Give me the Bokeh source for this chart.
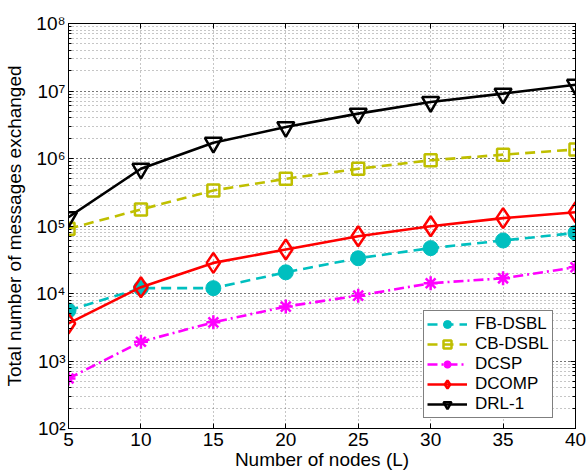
from bokeh.plotting import figure
from bokeh.models import (Range1d, FixedTicker, LogTicker, LogAxis, LinearAxis, Legend,
                          LegendItem, CustomJSTickFormatter)
from bokeh.embed import file_html
from bokeh.resources import INLINE

# ---- data ----
nodes = [5, 10, 15, 20, 25, 30, 35, 40]
fb_dsbl = [5.6e3, 1.2e4, 1.2e4, 2.06e4, 3.33e4, 4.7e4, 6.1e4, 7.9e4]
cb_dsbl = [9.1e4, 1.76e5, 3.36e5, 5.0e5, 7.05e5, 9.4e5, 1.14e6, 1.36e6]
dcsp = [550, 1.93e3, 3.74e3, 6.4e3, 9.3e3, 1.42e4, 1.68e4, 2.45e4]
dcomp = [3.6e3, 1.24e4, 2.84e4, 4.48e4, 7.05e4, 9.9e4, 1.31e5, 1.6e5]
drl1 = [1.35e5, 7.05e5, 1.71e6, 2.92e6, 4.62e6, 6.87e6, 9.15e6, 1.24e7]

series_names = ["FB-DSBL", "CB-DSBL", "DCSP", "DCOMP", "DRL-1"]
x_ticks = [5, 10, 15, 20, 25, 30, 35, 40]
y_min, y_max = 1e2, 1e8
x_label = "Number of nodes (L)"
y_label = "Total number of messages exchanged"

FONT = "Liberation Sans"

p = figure(width=587, height=475, y_axis_type="log",
           x_range=Range1d(5, 40), y_range=Range1d(y_min, y_max),
           output_backend="svg", toolbar_location=None,
           min_border_left=68, min_border_right=12, min_border_top=23, min_border_bottom=47)

p.background_fill_color = "white"
p.border_fill_color = "white"
p.outline_line_color = "black"
p.outline_line_width = 1

# axes
x_ticker = FixedTicker(ticks=x_ticks)
y_ticker = LogTicker(num_minor_ticks=10)
sup_js = """
const sup = {"0":"\u2070","1":"\u00b9","2":"\u00b2","3":"\u00b3","4":"\u2074","5":"\u2075",
             "6":"\u2076","7":"\u2077","8":"\u2078","9":"\u2079","-":"\u207b"};
const e = Math.round(Math.log10(tick));
return "10" + String(e).split("").map(c => sup[c]).join("");
"""
y_fmt = CustomJSTickFormatter(code=sup_js)

xa = p.xaxis[0]
xa.ticker = x_ticker
ya = p.yaxis[0]
ya.ticker = y_ticker
ya.formatter = y_fmt

for ax in (xa, ya):
    ax.major_label_text_font = FONT
    ax.major_label_text_font_size = "19px"
    ax.major_label_text_color = "black"
    ax.axis_label_text_font = FONT
    ax.axis_label_text_font_size = "19px"
    ax.axis_label_text_font_style = "normal"
    ax.axis_label_text_color = "black"
    ax.axis_line_color = "black"
    ax.axis_line_width = 1
    ax.major_tick_in = 5
    ax.major_tick_out = 0
    ax.minor_tick_in = 3
    ax.minor_tick_out = 0
    ax.major_tick_line_color = "black"
    ax.minor_tick_line_color = "black"
xa.minor_tick_line_color = None
xa.axis_label = x_label
ya.axis_label = y_label
xa.major_label_standoff = 4
xa.axis_label_standoff = 0
ya.major_label_standoff = 3
ya.axis_label_standoff = 8

# box axes (top/right) with inward ticks
right = LogAxis(ticker=y_ticker, major_label_text_font_size="0px", major_label_text_color=None,
                major_tick_in=5, major_tick_out=0, minor_tick_in=3, minor_tick_out=0,
                major_label_standoff=0, axis_line_color="black")
top = LinearAxis(ticker=x_ticker, major_label_text_font_size="0px", major_label_text_color=None,
                 major_tick_in=5, major_tick_out=0, minor_tick_line_color=None,
                 major_label_standoff=0, axis_line_color="black")
p.add_layout(right, "right")
p.add_layout(top, "above")

# grids
GA = 0.45
p.xgrid.ticker = x_ticker
p.xgrid.grid_line_color = "black"
p.xgrid.grid_line_alpha = GA
p.xgrid.grid_line_dash = "1 3"
p.ygrid.grid_line_color = "black"
p.ygrid.grid_line_alpha = GA
p.ygrid.grid_line_dash = "1 3"
p.ygrid.minor_grid_line_color = "black"
p.ygrid.minor_grid_line_alpha = GA
p.ygrid.minor_grid_line_dash = "1 3"

LW = 2.6
items = []

# FB-DSBL
c = "#00BFBF"
l1 = p.line(nodes, fb_dsbl, line_color=c, line_width=LW, line_dash="10 6")
m1 = p.scatter(nodes, fb_dsbl, marker="circle", size=15, fill_color=c, line_color=c)
items.append(LegendItem(label=series_names[0], renderers=[l1, m1]))

# CB-DSBL
c = "#BFBF00"
l2 = p.line(nodes, cb_dsbl, line_color=c, line_width=LW, line_dash="10 6")
m2 = p.scatter(nodes, cb_dsbl, marker="square", size=12, fill_color=None, line_color=c, line_width=2.5)
items.append(LegendItem(label=series_names[1], renderers=[l2, m2]))

# DCSP
c = "#FF00FF"
l3 = p.line(nodes, dcsp, line_color=c, line_width=LW, line_dash="10 4 2 4")
m3 = p.scatter(nodes, dcsp, marker="asterisk", size=14, line_color=c, line_width=2.5)
items.append(LegendItem(label=series_names[2], renderers=[l3, m3]))

# DCOMP
c = "#FF0000"
l4 = p.line(nodes, dcomp, line_color=c, line_width=LW)
m4 = p.scatter(nodes, dcomp, marker="diamond", size=20, fill_color=None, line_color=c, line_width=2.5)
items.append(LegendItem(label=series_names[3], renderers=[l4, m4]))

# DRL-1
c = "#000000"
l5 = p.line(nodes, drl1, line_color=c, line_width=LW)
m5 = p.scatter(nodes, drl1, marker="inverted_triangle", size=17, fill_color=None, line_color=c, line_width=2.5)
items.append(LegendItem(label=series_names[4], renderers=[l5, m5]))

legend = Legend(items=items, location=(355, 10))
legend.label_text_font = FONT
legend.label_text_font_size = "17px"
legend.label_text_color = "black"
legend.glyph_width = 40
legend.glyph_height = 20
legend.label_height = 20
legend.label_standoff = 8
legend.spacing = 0
legend.padding = 3
legend.margin = 0
legend.border_line_color = "black"
legend.border_line_width = 1
legend.background_fill_color = "white"
legend.background_fill_alpha = 1
p.add_layout(legend, "center")

open("out.html", "w").write(file_html(p, INLINE))
